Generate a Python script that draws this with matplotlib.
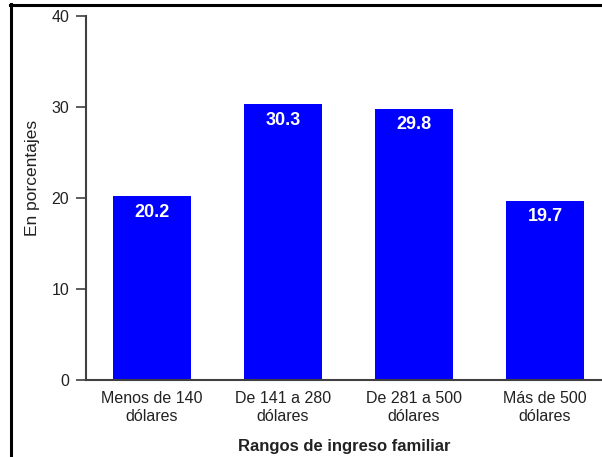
import matplotlib
matplotlib.use("Agg")
import matplotlib.pyplot as plt
from matplotlib.lines import Line2D

plt.rcParams['font.family'] = ['Liberation Sans', 'DejaVu Sans']

categories = ["Menos de 140\ndólares", "De 141 a 280\ndólares",
              "De 281 a 500\ndólares", "Más de 500\ndólares"]
values = [20.2, 30.3, 29.8, 19.7]
yticks = [0, 10, 20, 30, 40]

fig = plt.figure(figsize=(6.02, 4.57), dpi=100)
ax = fig.add_axes([86 / 602, 1 - 380 / 457, 1 - 86 / 602, (380 - 16) / 457])

x = range(len(categories))
bars = ax.bar(x, values, width=0.595, color="#0000FF", zorder=2)
for xi, v in zip(x, values):
    ax.text(xi, v - 1.75, f"{v:.1f}", ha="center", va="center",
            color="white", fontsize=13, fontweight="bold", zorder=3)

ax.set_xlim(-0.504, 3.435)
ax.set_ylim(0, 40)
ax.set_yticks(yticks)
ax.set_xticks(list(x))
ax.set_xticklabels(categories, fontsize=11.5, color="#222222", linespacing=1.2)
ax.tick_params(axis="y", direction="out", length=7, width=1.2, color="#404040",
               labelsize=11.5, labelcolor="#222222", pad=5)
ax.tick_params(axis="x", length=0, pad=8)

for side in ("top", "right"):
    ax.spines[side].set_visible(False)
for side in ("left", "bottom"):
    ax.spines[side].set_color("#404040")
    ax.spines[side].set_linewidth(1.5)

ax.set_ylabel("En porcentajes", fontsize=12.5, color="#222222",
              va="center", ha="center")
ax.yaxis.set_label_coords(-0.104, 0.555)
ax.set_xlabel("Rangos de ingreso familiar", fontsize=12, fontweight="bold",
              color="#222222", labelpad=11)

# frame lines around the figure
fig.add_artist(Line2D([10.5 / 602, 10.5 / 602], [0, 1 - 4 / 457],
                      transform=fig.transFigure, color="black", lw=2.2))
fig.add_artist(Line2D([10 / 602, 1], [1 - 5 / 457, 1 - 5 / 457],
                      transform=fig.transFigure, color="black", lw=2.2))

fig.savefig("out.png", dpi=100)
